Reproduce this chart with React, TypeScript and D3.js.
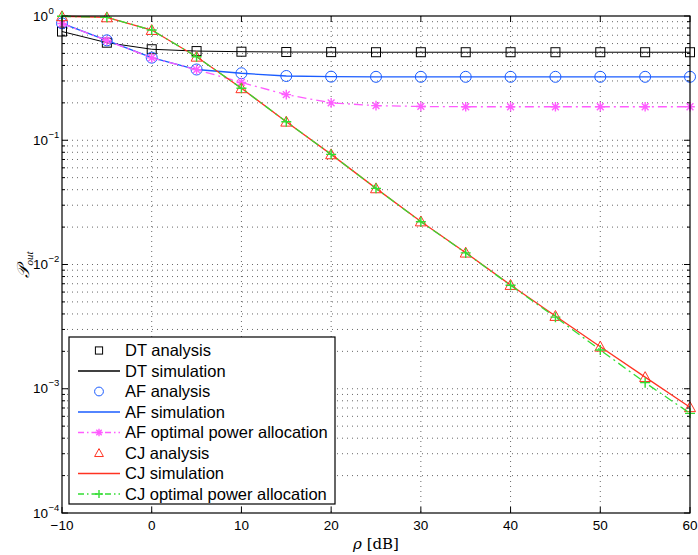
import React from "react";
import * as d3 from "d3";

const rho = [-10, -5, 0, 5, 10, 15, 20, 25, 30, 35, 40, 45, 50, 55, 60];
const dtAnalysis = [0.75, 0.61, 0.54, 0.522, 0.516, 0.513, 0.512, 0.511, 0.511, 0.511, 0.511, 0.511, 0.511, 0.511, 0.511];
const dtSimulation = [0.75, 0.61, 0.54, 0.522, 0.516, 0.513, 0.512, 0.511, 0.511, 0.511, 0.511, 0.511, 0.511, 0.511, 0.511];
const afAnalysis = [0.873, 0.637, 0.462, 0.371, 0.346, 0.329, 0.325, 0.324, 0.324, 0.324, 0.324, 0.324, 0.324, 0.324, 0.324];
const afSimulation = [0.873, 0.637, 0.462, 0.371, 0.346, 0.329, 0.325, 0.324, 0.324, 0.324, 0.324, 0.324, 0.324, 0.324, 0.324];
const afOptimal = [0.87, 0.635, 0.46, 0.37, 0.292, 0.233, 0.2, 0.19, 0.187, 0.186, 0.186, 0.186, 0.186, 0.186, 0.186];
const cjAnalysis = [0.995, 0.975, 0.771, 0.47, 0.262, 0.141, 0.077, 0.041, 0.0222, 0.01245, 0.00684, 0.00385, 0.00218, 0.00124, 0.00071];
const cjSimulation = [0.995, 0.975, 0.771, 0.47, 0.262, 0.141, 0.077, 0.041, 0.0222, 0.01245, 0.00684, 0.00385, 0.00218, 0.00124, 0.00071];
const cjOptimal = [0.995, 0.975, 0.771, 0.47, 0.262, 0.141, 0.077, 0.041, 0.0221, 0.0124, 0.0068, 0.00377, 0.00205, 0.00112, 0.000634];

const xTicks = [-10, 0, 10, 20, 30, 40, 50, 60];
const yExponents = [0, -1, -2, -3, -4];
const legendLabels = [
  "DT analysis",
  "DT simulation",
  "AF analysis",
  "AF simulation",
  "AF optimal power allocation",
  "CJ analysis",
  "CJ simulation",
  "CJ optimal power allocation",
];

const C_BLACK = "#000000";
const C_BLUE = "#1a5cff";
const C_MAG = "#ff5cff";
const C_RED = "#ff3322";
const C_GREEN = "#33dd33";

const L = 62, R = 690, T = 16, B = 513;
const FONT = "'Liberation Sans', Arial, Helvetica, sans-serif";

type MarkerKind = "square" | "circle" | "star" | "triangle" | "plus";

function Marker({ kind, x, y, color, small }: { kind: MarkerKind; x: number; y: number; color: string; small?: boolean }) {
  const sw = 1;
  const k = small ? 0.8 : 1;
  if (kind === "square") {
    const s = 4.5 * k;
    return <rect x={x - s} y={y - s} width={2 * s} height={2 * s} fill="none" stroke={color} strokeWidth={sw} />;
  }
  if (kind === "circle") {
    return <circle cx={x} cy={y} r={5.5 * k} fill="none" stroke={color} strokeWidth={sw} />;
  }
  if (kind === "triangle") {
    const s = 5.5 * k;
    return (
      <path
        d={`M${x},${y - s} L${x + s},${y + s * 0.8} L${x - s},${y + s * 0.8} Z`}
        fill="none"
        stroke={color}
        strokeWidth={sw}
      />
    );
  }
  if (kind === "plus") {
    const s = 5 * k;
    return <path d={`M${x - s},${y} H${x + s} M${x},${y - s} V${y + s}`} stroke={color} strokeWidth={1.4} fill="none" />;
  }
  const s = 4.8 * k;
  const d2 = s * 0.707;
  return (
    <path
      d={`M${x - s},${y} H${x + s} M${x},${y - s} V${y + s} M${x - d2},${y - d2} L${x + d2},${y + d2} M${x - d2},${y + d2} L${x + d2},${y - d2}`}
      stroke={color}
      strokeWidth={1.4}
      fill="none"
    />
  );
}

export default function App() {
  const x = d3.scaleLinear().domain([-10, 60]).range([L, R]);
  const y = d3.scaleLog().domain([1e-4, 1]).range([B, T]);
  const line = (vals: number[]) =>
    d3
      .line<number>()
      .x((_, i) => x(rho[i]))
      .y((v) => y(v))(vals) as string;

  const minorY: number[] = [];
  for (let e = -4; e < 0; e++) for (let k = 2; k <= 9; k++) minorY.push(k * Math.pow(10, e));
  const majorY = yExponents.map((e) => Math.pow(10, e));

  const gridColor = "#444";
  const dash = "1,4";

  const legendX = 69, legendY = 337, legendW = 266, legendH = 167;
  const rowH = 20.5;
  const row0 = 350.5;

  const legendItems: { label: string; line?: { color: string; dash?: string }; marker?: { kind: MarkerKind; color: string } }[] = [
    { label: legendLabels[0], marker: { kind: "square", color: C_BLACK } },
    { label: legendLabels[1], line: { color: C_BLACK } },
    { label: legendLabels[2], marker: { kind: "circle", color: C_BLUE } },
    { label: legendLabels[3], line: { color: C_BLUE } },
    { label: legendLabels[4], line: { color: C_MAG, dash: "6,3,1.5,3" }, marker: { kind: "star", color: C_MAG } },
    { label: legendLabels[5], marker: { kind: "triangle", color: C_RED } },
    { label: legendLabels[6], line: { color: C_RED } },
    { label: legendLabels[7], line: { color: C_GREEN, dash: "6,3,1.5,3" }, marker: { kind: "plus", color: C_GREEN } },
  ];

  return (
    <svg width={698} height={555} style={{ display: "block", position: "absolute", left: 0, top: 0 }}>
      <rect x={0} y={0} width={698} height={555} fill="#fff" />
      {/* grid */}
      <g stroke={gridColor} strokeWidth={1} strokeDasharray={dash} fill="none" opacity={0.8}>
        {xTicks.slice(1, -1).map((t) => (
          <line key={"gx" + t} x1={x(t)} x2={x(t)} y1={T} y2={B} />
        ))}
        {majorY.slice(1, -1).map((v) => (
          <line key={"gy" + v} x1={L} x2={R} y1={y(v)} y2={y(v)} />
        ))}
        {minorY.map((v) => (
          <line key={"gm" + v} x1={L} x2={R} y1={y(v)} y2={y(v)} />
        ))}
      </g>
      {/* ticks */}
      <g stroke="#000" strokeWidth={1}>
        {xTicks.map((t) => (
          <g key={"tx" + t}>
            <line x1={x(t)} x2={x(t)} y1={B} y2={B - 6} />
            <line x1={x(t)} x2={x(t)} y1={T} y2={T + 6} />
          </g>
        ))}
        {majorY.map((v) => (
          <g key={"ty" + v}>
            <line x1={L} x2={L + 6} y1={y(v)} y2={y(v)} />
            <line x1={R} x2={R - 6} y1={y(v)} y2={y(v)} />
          </g>
        ))}
        {minorY.map((v) => (
          <g key={"tm" + v}>
            <line x1={L} x2={L + 3} y1={y(v)} y2={y(v)} />
            <line x1={R} x2={R - 3} y1={y(v)} y2={y(v)} />
          </g>
        ))}
      </g>
      {/* series */}
      <g fill="none">
        <path d={line(dtSimulation)} stroke={C_BLACK} strokeWidth={1} />
        {dtAnalysis.map((v, i) => (
          <Marker key={"dt" + i} kind="square" x={x(rho[i])} y={y(v)} color={C_BLACK} />
        ))}
        {afAnalysis.map((v, i) => (
          <Marker key={"af" + i} kind="circle" x={x(rho[i])} y={y(v)} color={C_BLUE} />
        ))}
        <path d={line(afSimulation)} stroke={C_BLUE} strokeWidth={1.3} />
        <path d={line(afOptimal)} stroke={C_MAG} strokeWidth={1.3} strokeDasharray="9,4,2,4" />
        {afOptimal.map((v, i) => (
          <Marker key={"ao" + i} kind="star" x={x(rho[i])} y={y(v)} color={C_MAG} />
        ))}
        {cjAnalysis.map((v, i) => (
          <Marker key={"cj" + i} kind="triangle" x={x(rho[i])} y={y(v)} color={C_RED} />
        ))}
        <path d={line(cjSimulation)} stroke={C_RED} strokeWidth={1.3} />
        <path d={line(cjOptimal)} stroke={C_GREEN} strokeWidth={1.3} strokeDasharray="9,4,2,4" />
        {cjOptimal.map((v, i) => (
          <Marker key={"co" + i} kind="plus" x={x(rho[i])} y={y(v)} color={C_GREEN} />
        ))}
      </g>
      {/* axes box */}
      <rect x={L} y={T} width={R - L} height={B - T} fill="none" stroke="#000" strokeWidth={1.2} />
      {/* tick labels */}
      <g fontFamily={FONT} fontSize={13.5} fill="#000">
        {xTicks.map((t) => (
          <text key={"lx" + t} x={x(t)} y={530} textAnchor="middle">
            {t < 0 ? "\u2212" + Math.abs(t) : String(t)}
          </text>
        ))}
        {yExponents.map((e) => (
          <g key={"ly" + e}>
            <text x={48} y={y(Math.pow(10, e)) + 4.5} textAnchor="end">
              10
            </text>
            <text x={48.5} y={y(Math.pow(10, e)) - 2.5} fontSize={9.5} textAnchor="start">
              {e === 0 ? "0" : "\u2212" + Math.abs(e)}
            </text>
          </g>
        ))}
      </g>
      {/* axis labels */}
      <text x={376} y={549} textAnchor="middle" fontFamily="'DejaVu Serif', 'Liberation Serif', serif" fontSize={15}>
        <tspan fontStyle="italic">ρ</tspan>
        <tspan> [dB]</tspan>
      </text>
      <text
        transform={`translate(29, ${(T + B) / 2}) rotate(-90)`}
        textAnchor="middle"
        fontFamily="'Liberation Serif', 'DejaVu Serif', serif"
        fontSize={17}
      >
        <tspan fontStyle="italic">𝒫</tspan>
        <tspan fontStyle="italic" fontSize={11} dy={4}>
          out
        </tspan>
      </text>
      {/* legend */}
      <rect x={legendX} y={legendY} width={legendW} height={legendH} fill="#fff" stroke="#000" strokeWidth={1.2} />
      {legendItems.map((it, i) => {
        const cy = row0 + i * rowH;
        return (
          <g key={"lg" + i}>
            {it.line && (
              <line x1={78} x2={120} y1={cy} y2={cy} stroke={it.line.color} strokeWidth={1.3} strokeDasharray={it.line.dash} />
            )}
            {it.marker && <Marker kind={it.marker.kind} x={99} y={cy} color={it.marker.color} small />}
            <text x={125} y={cy + 5.5} fontFamily={FONT} fontSize={16.5} fill="#000">
              {it.label}
            </text>
          </g>
        );
      })}
    </svg>
  );
}
